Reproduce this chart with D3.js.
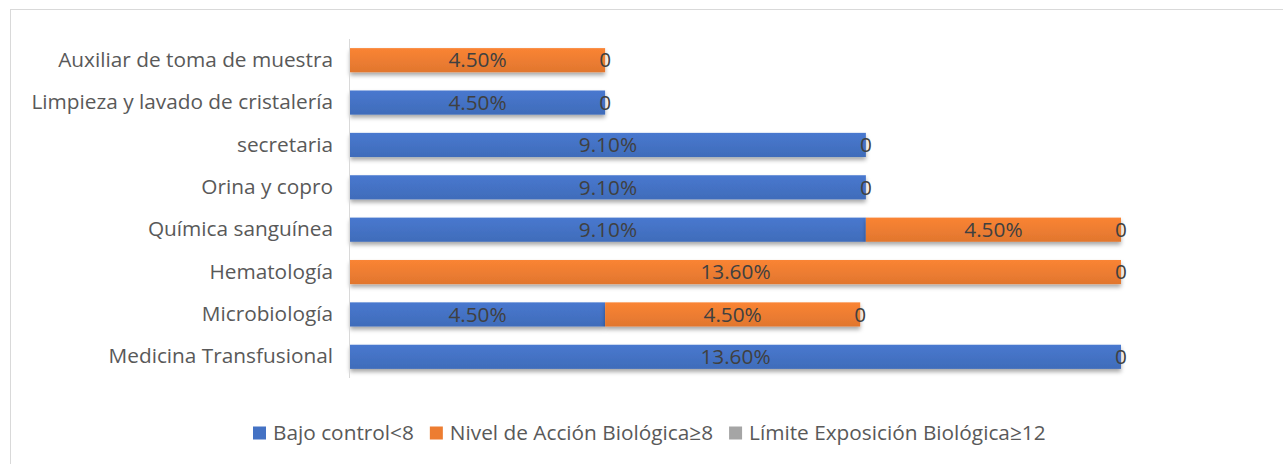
<!DOCTYPE html>
<html>
<head>
<meta charset="utf-8">
<script src="https://cdn.jsdelivr.net/npm/d3@7"></script>
<style>
  html, body { margin: 0; padding: 0; background: #fff; }
  svg { display: block; font-family: "Open Sans", "Noto Sans", sans-serif; }
</style>
</head>
<body>
<svg id="chart" width="1283" height="464"></svg>
<script>
// Areas of the laboratory, top to bottom
const categories = [
  "Auxiliar de toma de muestra",
  "Limpieza y lavado de cristalería",
  "secretaria",
  "Orina y copro",
  "Química sanguínea",
  "Hematología",
  "Microbiología",
  "Medicina Transfusional"
];
const seriesNames = ["Bajo control<8", "Nivel de Acción Biológica≥8", "Límite Exposición Biológica≥12"];
const bajoControl = [0, 4.5, 9.1, 9.1, 9.1, 0, 4.5, 13.6];
const nivelAccion = [4.5, 0, 0, 0, 4.5, 13.6, 4.5, 0];
const limiteExposicion = [0, 0, 0, 0, 0, 0, 0, 0];
const seriesColors = ["#4472C4", "#ED7D31", "#A5A5A5"];

const FS = 20.8;
const svg = d3.select("#chart");

// chart frame
svg.append("rect")
  .attr("x", 10.5).attr("y", 9.5)
  .attr("width", 1290).attr("height", 470)
  .attr("fill", "#fff").attr("stroke", "#d9d9d9").attr("stroke-width", 1);

const defs = svg.append("defs");
const f = defs.append("filter").attr("id", "shadow")
  .attr("x", "-5%").attr("y", "-30%").attr("width", "110%").attr("height", "190%");
f.append("feDropShadow").attr("dx", 0).attr("dy", 3).attr("stdDeviation", 2)
  .attr("flood-color", "#000").attr("flood-opacity", 0.35);

seriesColors.forEach((c, i) => {
  const g = defs.append("linearGradient").attr("id", "grad" + i)
    .attr("x1", 0).attr("y1", 0).attr("x2", 0).attr("y2", 1);
  g.append("stop").attr("offset", "0%").attr("stop-color", d3.color(c).brighter(0.15));
  g.append("stop").attr("offset", "100%").attr("stop-color", d3.color(c).darker(0.15));
});

const x = d3.scaleLinear().domain([0, 13.6]).range([350, 1121]);
const y = d3.scaleBand().domain(categories).range([39, 378]).paddingInner(0.43).paddingOuter(0.215);

const rows = categories.map((c, i) => ({
  cat: c,
  [seriesNames[0]]: bajoControl[i],
  [seriesNames[1]]: nivelAccion[i],
  [seriesNames[2]]: limiteExposicion[i]
}));
const stacked = d3.stack().keys(seriesNames)(rows);

// bars
stacked.forEach((layer, si) => {
  svg.append("g").selectAll("rect")
    .data(layer.filter(d => d[1] - d[0] > 0))
    .join("rect")
    .attr("x", d => x(d[0]))
    .attr("y", d => y(d.data.cat))
    .attr("width", d => x(d[1]) - x(d[0]))
    .attr("height", y.bandwidth())
    .attr("fill", `url(#grad${si})`)
    .attr("filter", "url(#shadow)");
});

// vertical category axis line
svg.append("line")
  .attr("x1", 349.5).attr("x2", 349.5)
  .attr("y1", 39).attr("y2", 378)
  .attr("stroke", "#d9d9d9").attr("stroke-width", 1);

// category labels
const yAxis = d3.axisLeft(y).tickSize(0).tickPadding(16);
const ya = svg.append("g").attr("transform", "translate(349,0)").call(yAxis);
ya.select(".domain").remove();
ya.selectAll("text")
  .attr("font-size", FS).attr("fill", "#595959")
  .attr("font-family", "'Open Sans', 'Noto Sans', sans-serif");

// data labels
const fmt = v => v.toFixed(2) + "%";
stacked.forEach((layer, si) => {
  const shown = si === 2 ? layer : layer.filter(d => d[1] - d[0] > 0);
  svg.append("g").selectAll("text")
    .data(shown)
    .join("text")
    .attr("x", d => (x(d[0]) + x(d[1])) / 2)
    .attr("y", d => y(d.data.cat) + y.bandwidth() / 2)
    .attr("dy", "0.35em")
    .attr("text-anchor", "middle")
    .attr("font-size", FS)
    .attr("fill", "#404040")
    .text(d => si === 2 ? "0" : fmt(d[1] - d[0]));
});

// legend
const legend = svg.append("g");
const items = legend.selectAll("g").data(seriesNames).join("g");
items.append("rect").attr("width", 13).attr("height", 13).attr("y", -6.5)
  .attr("fill", (d, i) => seriesColors[i]);
items.append("text").attr("x", 20).attr("dy", "0.35em")
  .attr("font-size", FS).attr("fill", "#595959").text(d => d);
let lx = 0;
items.each(function () {
  d3.select(this).attr("transform", `translate(${lx},0)`);
  lx += this.getBBox().width + 16;
});
legend.attr("transform", `translate(253,433)`);
</script>
</body>
</html>
